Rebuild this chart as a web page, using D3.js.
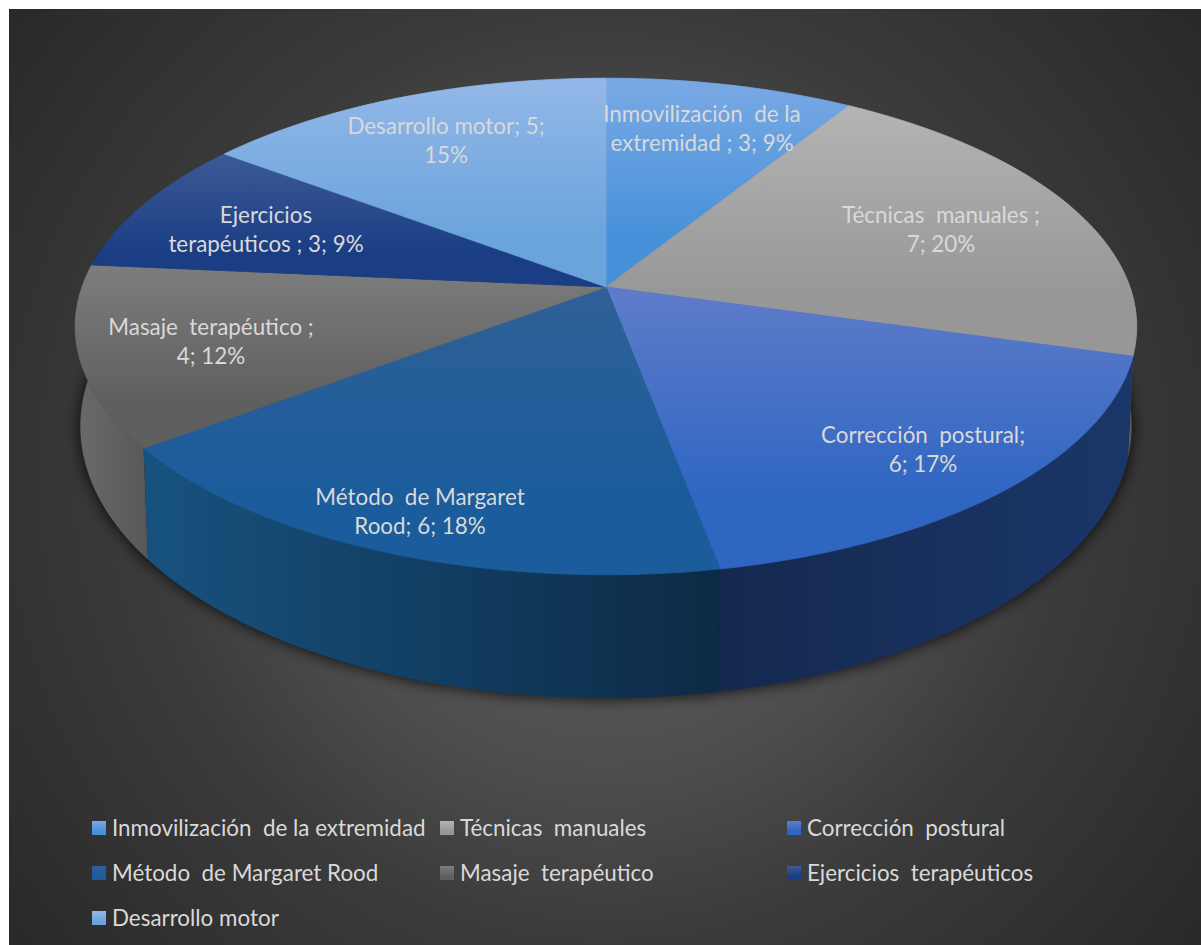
<!DOCTYPE html>
<html lang="es">
<head>
<meta charset="utf-8">
<title>Técnicas de rehabilitación</title>
<script src="https://cdn.jsdelivr.net/npm/d3@7/dist/d3.min.js"></script>
<style>
  html, body { margin: 0; padding: 0; background: #fff; }
  svg { display: block; }
  text { font-family: Lato, "Open Sans", sans-serif; white-space: pre; }
</style>
</head>
<body>
<svg id="chart" width="1201" height="945"></svg>
<script>
// Sessions per technique, in legend order
const categories = [
  "Inmovilización  de la extremidad",
  "Técnicas  manuales",
  "Corrección  postural",
  "Método  de Margaret Rood",
  "Masaje  terapéutico",
  "Ejercicios  terapéuticos",
  "Desarrollo motor"
];
const values = [3, 7, 6, 6, 4, 3, 5];
const percentLabels = ["9%", "20%", "17%", "18%", "12%", "9%", "15%"];

// Slice label text, wrapped by line
const labelLines = [
  ["Inmovilización  de la", "extremidad ; 3; 9%"],
  ["Técnicas  manuales ;", "7; 20%"],
  ["Corrección  postural;", "6; 17%"],
  ["Método  de Margaret", "Rood; 6; 18%"],
  ["Masaje  terapéutico ;", "4; 12%"],
  ["Ejercicios", "terapéuticos ; 3; 9%"],
  ["Desarrollo motor; 5;", "15%"]
];
const labelCentres = [[702, 129], [941, 230], [923, 450], [420, 512], [211, 342], [266, 230], [446, 141]];

// Top face gradient stops and side wall tones per slice
const topLight = ["#7aa9e4", "#b4b4b4", "#5f7cca", "#2f6096", "#7d7d7d", "#3d5a96", "#93b8e8"];
const topDark  = ["#4791da", "#979797", "#2f66c2", "#1a5c9c", "#5f5f5f", "#1a3d84", "#6ba4dc"];
const wallLight = ["#27517f", "#5a5a5a", "#1a3769", "#17527f", "#6a6a6a", "#14264f", "#3a5f88"];
const wallDark  = ["#1d3f66", "#444", "#15294f", "#0d2a45", "#585858", "#101f40", "#2f4f73"];

const svg = d3.select("#chart");
const defs = svg.append("defs");

// Chart background
const bg = defs.append("radialGradient").attr("id", "bg")
  .attr("gradientUnits", "userSpaceOnUse")
  .attr("cx", 605).attr("cy", 477).attr("r", 770);
bg.append("stop").attr("offset", 0).attr("stop-color", "#666666");
bg.append("stop").attr("offset", 0.39).attr("stop-color", "#4d4d4d");
bg.append("stop").attr("offset", 0.6).attr("stop-color", "#3b3b3b");
bg.append("stop").attr("offset", 1).attr("stop-color", "#282828");
svg.append("rect").attr("x", 9).attr("y", 9).attr("width", 1192).attr("height", 936).attr("fill", "url(#bg)");

defs.append("filter").attr("id", "soft")
  .attr("x", "-10%").attr("y", "-10%").attr("width", "120%").attr("height", "120%")
  .append("feGaussianBlur").attr("stdDeviation", 7);

// Perspective disc: the centre of the unit circle lands on (cx, cy), the far edge shrinks
const persp = 0.159;
const topFace = { cx: 606, cy: 287, a: 524, b: 242 };
const baseFace = { cx: 606, cy: 383, a: 519, b: 265 };
function project(face, angle) {
  const u = Math.sin(angle), v = Math.cos(angle), w = 1 + persp * v;
  return [face.cx + face.a * u / w, face.cy - face.b * v / w];
}
const outline = d3.line();
const arcSamples = (a0, a1) => d3.range(0, 41).map(i => a0 + (a1 - a0) * i / 40);

const pie = d3.pie().value(d => d).sort(null);
const slices = pie(values);

slices.forEach((s, i) => {
  const top = defs.append("linearGradient").attr("id", "top" + i)
    .attr("x1", 0).attr("y1", 0).attr("x2", 0).attr("y2", 1);
  top.append("stop").attr("offset", 0).attr("stop-color", topLight[i]);
  top.append("stop").attr("offset", 0.75).attr("stop-color", topDark[i]);
  const wall = defs.append("linearGradient").attr("id", "wall" + i)
    .attr("x1", 0).attr("y1", 0).attr("x2", 1).attr("y2", 0);
  wall.append("stop").attr("offset", 0).attr("stop-color", i < 3 ? wallDark[i] : wallLight[i]);
  wall.append("stop").attr("offset", 1).attr("stop-color", i < 3 ? wallLight[i] : wallDark[i]);
});

// Soft shadow below the disc
const rim = arcSamples(0, 2 * Math.PI);
svg.append("path")
  .attr("d", outline(rim.map(a => project({ ...baseFace, cy: baseFace.cy + 2, a: baseFace.a + 2 }, a))) + "Z")
  .attr("fill", "#000").attr("opacity", 0.75).attr("filter", "url(#soft)");

// Side walls go down first so the top face covers their upper edge
svg.append("g").selectAll("path").data(slices).join("path")
  .attr("d", s => {
    const angles = arcSamples(s.startAngle, s.endAngle);
    const upper = angles.map(a => project(topFace, a));
    const lower = angles.slice().reverse().map(a => project(baseFace, a));
    return outline(upper.concat(lower)) + "Z";
  })
  .attr("fill", (s, i) => `url(#wall${i})`);

// Top face; the hairline stroke closes the seams between neighbouring slices
svg.append("g").selectAll("path").data(slices).join("path")
  .attr("d", s => {
    const edge = arcSamples(s.startAngle, s.endAngle).map(a => project(topFace, a));
    return outline([[topFace.cx, topFace.cy], ...edge]) + "Z";
  })
  .attr("fill", (s, i) => `url(#top${i})`)
  .attr("stroke", (s, i) => `url(#top${i})`)
  .attr("stroke-width", 0.8);

// Slice labels
const labels = svg.append("g").attr("fill", "#d9d9d9").attr("font-size", 22.4).attr("text-anchor", "middle");
labelLines.forEach((lines, i) => {
  const [x, y] = labelCentres[i];
  lines.forEach((line, j) => {
    labels.append("text").attr("x", x).attr("y", y + (j - 0.5) * 29 + 7).text(line);
  });
});

// Legend, three columns by three rows
const legendX = d3.scaleOrdinal().domain([0, 1, 2]).range([92, 440, 787]);
const legendY = d3.scalePoint().domain([0, 1, 2]).range([828, 918]);
const legend = svg.append("g").selectAll("g").data(categories).join("g")
  .attr("transform", (d, i) => `translate(${legendX(i % 3)},${legendY(Math.floor(i / 3))})`);
legend.append("rect").attr("x", 0).attr("y", -7).attr("width", 14).attr("height", 14)
  .attr("fill", (d, i) => `url(#top${i})`);
legend.append("text").attr("x", 20).attr("y", 7.5).attr("font-size", 22.4).attr("fill", "#d9d9d9").text(d => d);
</script>
</body>
</html>
